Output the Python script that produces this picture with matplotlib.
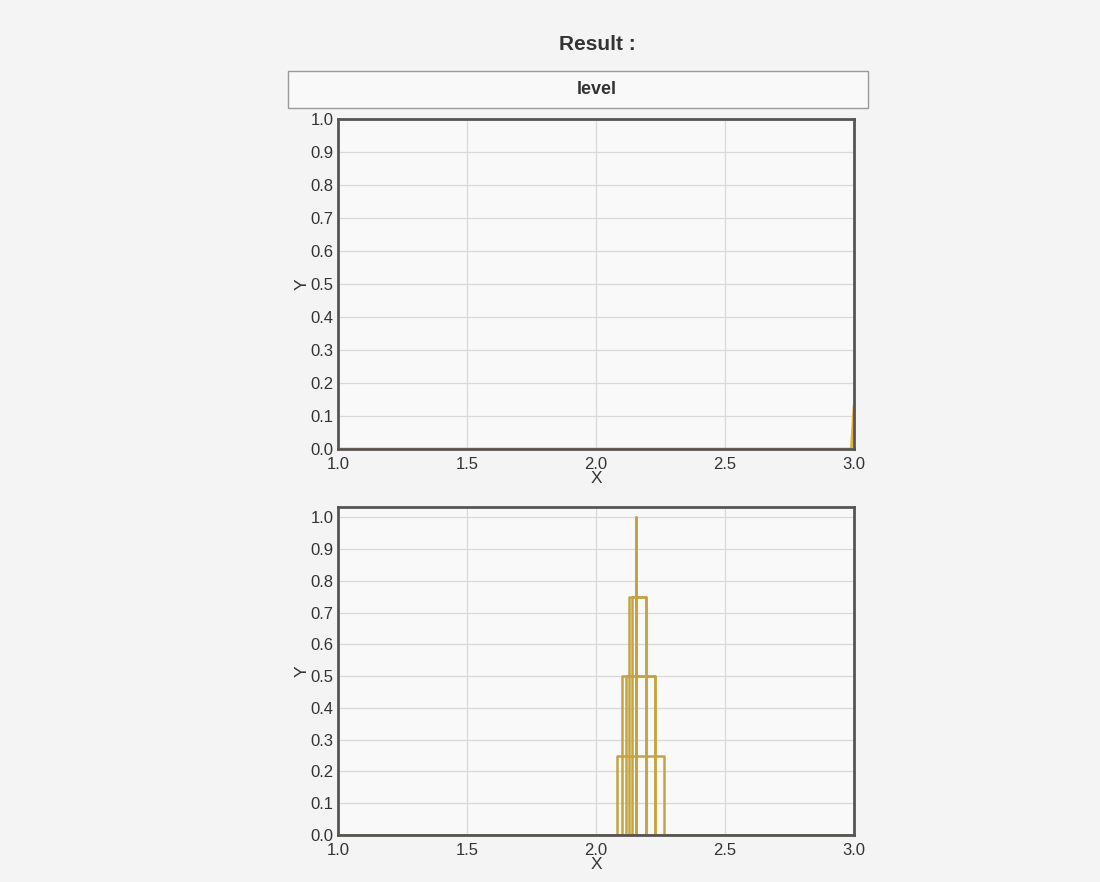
import matplotlib.pyplot as plt
from matplotlib.patches import Rectangle

plt.rcParams['font.family'] = ['Liberation Sans', 'DejaVu Sans']

# Top plot: level curve, flat at zero with a rise at the right edge
top_x = [1.0, 2.99, 3.0]
top_y = [0.0, 0.0, 0.13]

# Bottom plot: alpha-cut intervals (left, right, level)
cut_left = [2.081, 2.101, 2.115, 2.127, 2.140, 2.155]
cut_right = [2.262, 2.229, 2.229, 2.194, 2.194, 2.155]
cut_level = [0.25, 0.5, 0.5, 0.75, 0.75, 1.0]
x_min, x_max = 1.0, 3.0

x_ticks = [1.0, 1.5, 2.0, 2.5, 3.0]
y_ticks = [0.0, 0.1, 0.2, 0.3, 0.4, 0.5, 0.6, 0.7, 0.8, 0.9, 1.0]

fig = plt.figure(figsize=(11, 8.82), dpi=100, facecolor='#f4f4f4')

fig.text(597 / 1100, 1 - 45 / 882, 'Result :', ha='center', va='center',
         fontsize=15, fontweight='bold', color='#333333')
fig.patches.append(Rectangle((288 / 1100, 1 - 108 / 882), 580 / 1100, 37 / 882,
                             transform=fig.transFigure, facecolor='#f9f9f9',
                             edgecolor='#999999', linewidth=1))
fig.text(597 / 1100, 1 - 89 / 882, 'level', ha='center', va='center',
         fontsize=13, fontweight='bold', color='#333333')


def style(ax, ytop):
    ax.set_facecolor('#f9f9f9')
    ax.set_xlim(x_min, x_max)
    ax.set_ylim(0, ytop)
    ax.set_xticks(x_ticks)
    ax.set_yticks(y_ticks)
    ax.set_xticklabels([f'{v:.1f}' for v in x_ticks])
    ax.set_yticklabels([f'{v:.1f}' for v in y_ticks])
    ax.tick_params(length=0, labelsize=12, labelcolor='#333333', pad=3)
    ax.tick_params(axis='x', pad=6)
    ax.grid(True, color='#d9d9d9', linewidth=0.9)
    ax.set_axisbelow(True)
    for s in ax.spines.values():
        s.set_color('#555555')
        s.set_linewidth(2)
    ax.set_xlabel('X', fontsize=12.5, color='#333333', labelpad=-1)
    ax.set_ylabel('Y', fontsize=12.5, color='#333333', labelpad=1)


ax1 = fig.add_axes([338 / 1100, 1 - 449 / 882, 516 / 1100, 330 / 882])
ax1.plot(top_x, top_y, color='#e0b23a', linewidth=2.0)
style(ax1, 1.0)

ax2 = fig.add_axes([338 / 1100, 1 - 835 / 882, 516 / 1100, 328 / 882])
ax2.plot([x_min, x_max], [0, 0], color='#c4a440', linewidth=2.0)
for a, b, lv in zip(cut_left, cut_right, cut_level):
    ax2.plot([a, a, b, b], [0, lv, lv, 0], color='#c4a440', linewidth=1.8)
style(ax2, 1.032)

fig.savefig('out.png', dpi=100, facecolor=fig.get_facecolor())
